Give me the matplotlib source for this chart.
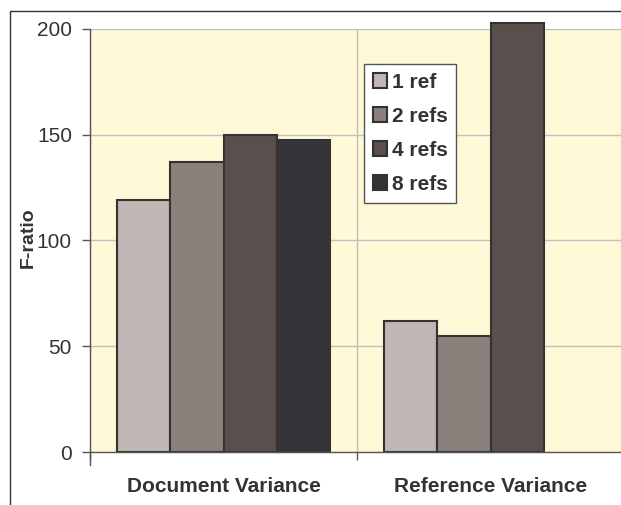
import numpy as np
import matplotlib.pyplot as plt
from matplotlib.patches import Rectangle

plt.rcParams['font.family'] = ['Liberation Sans', 'DejaVu Sans']

categories = ['Document Variance', 'Reference Variance']
series = ['1 ref', '2 refs', '4 refs', '8 refs']
values = {
    '1 ref':  [119, 62],
    '2 refs': [137, 55],
    '4 refs': [150, 203],
    '8 refs': [147.5, np.nan],
}
colors = ['#C0B6B4', '#8C807C', '#5A4F4D', '#353438']
yticks = [0, 50, 100, 150, 200]

W, H = 621, 505
fig = plt.figure(figsize=(W / 100, H / 100), dpi=100)

# outer chart border, runs off the right and bottom edges
fig.patches.append(Rectangle((9.5 / W, -0.1), 1.2, 1 - 10.5 / H + 0.1,
                             transform=fig.transFigure, fill=False,
                             edgecolor='#333333', linewidth=1))

ax = fig.add_axes([90 / W, 53 / H, 534 / W, 423 / H])
ax.set_facecolor('#FFF9D7')

x = np.arange(len(categories))
width = 0.2
for i, (name, col) in enumerate(zip(series, colors)):
    ax.bar(x + (i - 1.5) * width, values[name], width, color=col,
           edgecolor='#333333', linewidth=1.5, label=name, zorder=3,
           clip_on=False)

ax.set_xlim(-0.5, 1.5)
ax.set_ylim(0, 200)
ax.set_yticks(yticks)
ax.set_xticks(x)
ax.set_xticklabels(categories, fontsize=15, fontweight='bold', color='#333333')
ax.set_xticks([-0.5, 0.5], minor=True)
ax.tick_params(axis='x', which='major', length=0, pad=18)
ax.tick_params(axis='x', which='minor', length=6, width=1, color='#555555')
ax.tick_params(axis='y', length=6, width=1, color='#555555', pad=7,
               labelsize=15, labelcolor='#333333')

ax.grid(axis='y', color='#C0C0C0', linewidth=1, zorder=0)
ax.grid(axis='x', which='minor', color='#C0C0C0', linewidth=1, zorder=0)
ax.set_axisbelow(True)

for s in ['top', 'right']:
    ax.spines[s].set_visible(False)
for s in ['left', 'bottom']:
    ax.spines[s].set_color('#555555')
    ax.spines[s].set_linewidth(1)
    ax.spines[s].set_zorder(4)
ax.spines['left'].set_bounds(-6, 200)

ax.set_ylabel('F-ratio', fontsize=14, fontweight='bold', color='#333333')
ax.yaxis.set_label_coords(-53 / 534, 0.506)

leg = ax.legend(loc='upper left', bbox_to_anchor=(364 / W, 1 - 64 / H),
                bbox_transform=fig.transFigure,
                prop={'weight': 'bold', 'size': 15},
                fancybox=False, framealpha=1, edgecolor='#555555',
                handlelength=0.7, handleheight=0.7, handletextpad=0.2,
                labelspacing=0.72, borderpad=0.42, borderaxespad=0)
leg.get_frame().set_linewidth(1)
for t in leg.get_texts():
    t.set_color('#333333')

fig.savefig('out.png', dpi=100)
